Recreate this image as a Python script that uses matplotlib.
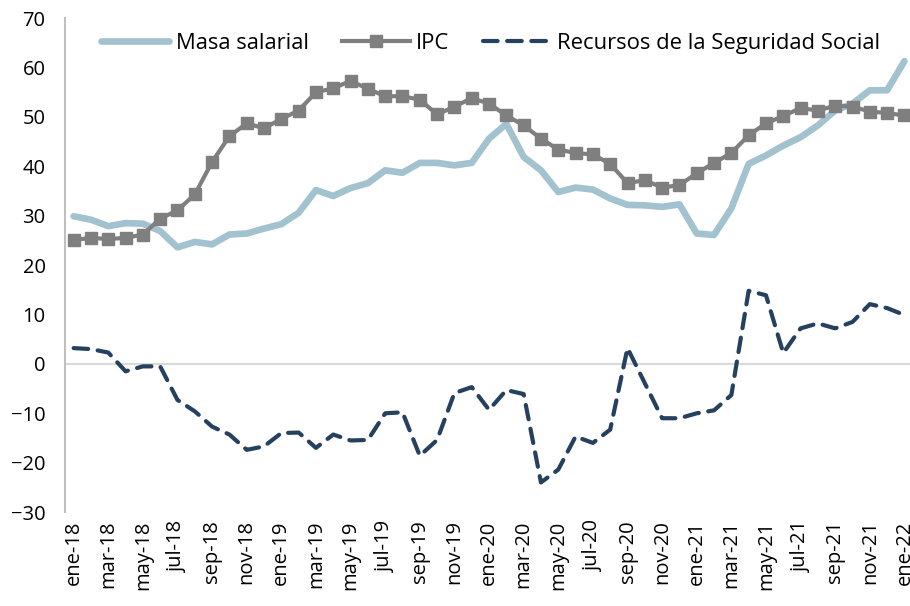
import numpy as np
import matplotlib.pyplot as plt

plt.rcParams['font.family'] = ['Open Sans', 'DejaVu Sans']

# months ene-18 .. ene-22
meses = ['ene', 'feb', 'mar', 'abr', 'may', 'jun', 'jul', 'ago', 'sep', 'oct', 'nov', 'dic']
labels = [f"{meses[i % 12]}-{18 + i // 12}" for i in range(49)]

masa_salarial = [29.9, 29.2, 27.9, 28.5, 28.4, 26.9, 23.6, 24.7, 24.2, 26.2,
                 26.4, 27.4, 28.3, 30.6, 35.2, 34.0, 35.6, 36.6, 39.2, 38.7,
                 40.7, 40.7, 40.2, 40.7, 45.6, 48.6, 41.9, 39.2, 34.8, 35.7,
                 35.3, 33.5, 32.2, 32.1, 31.8, 32.3, 26.4, 26.1, 31.5, 40.5,
                 42.2, 44.2, 45.9, 48.3, 51.3, 52.7, 55.4, 55.4, 61.3]
ipc = [25.1, 25.5, 25.3, 25.5, 26.2, 29.4, 31.1, 34.3, 40.9, 46.1,
       48.7, 47.7, 49.6, 51.3, 55.0, 55.8, 57.3, 55.7, 54.2, 54.2,
       53.5, 50.5, 52.1, 53.8, 52.7, 50.3, 48.3, 45.6, 43.4, 42.7,
       42.4, 40.5, 36.6, 37.2, 35.7, 36.2, 38.6, 40.7, 42.7, 46.3,
       48.7, 50.2, 51.8, 51.3, 52.3, 52.1, 51.1, 50.8, 50.3]
recursos_ss = [3.2, 3.0, 2.3, -1.5, -0.5, -0.5, -7.3, -9.6, -12.7, -14.3,
               -17.4, -16.7, -14.0, -13.9, -17.0, -14.3, -15.5, -15.4, -10.0, -9.8,
               -18.6, -15.4, -5.9, -4.7, -9.3, -5.3, -6.1, -24.0, -21.4, -14.7,
               -16.0, -13.3, 3.2, -3.9, -11.0, -11.0, -10.0, -9.4, -6.3, 14.8,
               13.9, 2.2, 7.2, 8.2, 7.2, 8.5, 12.1, 11.3, 9.9]

x = np.arange(len(labels))

fig = plt.figure(figsize=(9.1, 6.06), dpi=100)
ax = fig.add_axes([0.0714, 0.155, 0.932, 0.815])

ax.axhline(0, color='#d9d9d9', lw=1.5, zorder=1)
ax.plot(x, masa_salarial, color='#a2c2cf', lw=4.8, solid_capstyle='round',
        solid_joinstyle='round', label='Masa salarial', zorder=2)
ax.plot(x, ipc, color='#7f7f7f', lw=3, marker='s', markersize=8,
        label='IPC', zorder=3)
ax.plot(x, recursos_ss, color='#25415f', lw=3, dashes=(3.5, 2.3),
        dash_capstyle='round', dash_joinstyle='round',
        label='Recursos de la Seguridad Social', zorder=4)

ax.set_xlim(-0.5, 48.5)
ax.set_ylim(-30, 70)
ax.set_yticks(range(-30, 71, 10))
ax.set_xticks(x[::2])
ax.set_xticklabels(labels[::2], rotation=90)
ax.tick_params(axis='both', length=0, labelsize=14.5)
ax.tick_params(axis='y', pad=14)
ax.tick_params(axis='x', pad=6)
for s in ['top', 'right', 'bottom']:
    ax.spines[s].set_visible(False)
ax.spines['left'].set_color('#bfbfbf')
ax.spines['left'].set_linewidth(1.5)

ax.legend(loc='upper center', bbox_to_anchor=(0.502, 1.01), ncol=3, frameon=False,
          fontsize=15.8, handlelength=3.1, columnspacing=1.5, handletextpad=0.3)

fig.savefig('out.png', dpi=100)
